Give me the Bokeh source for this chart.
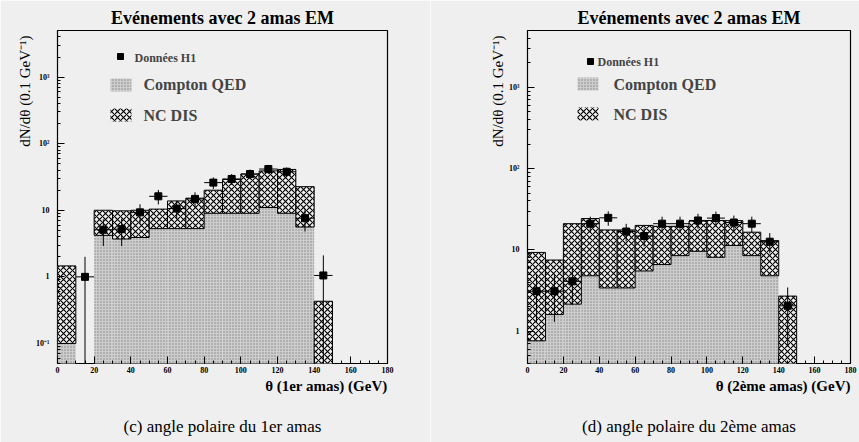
from math import log10
from bokeh.plotting import figure
from bokeh.layouts import row
from bokeh.models import Range1d, FixedTicker, Label, Title
from bokeh.embed import file_html
from bokeh.resources import INLINE

# ---------------- data ----------------
bin_edges = [0, 10, 20, 30, 40, 50, 60, 70, 80, 90, 100, 110, 120, 130, 140, 150]

left_compton = [0.1, 0, 4.2, 3.7, 3.9, 5.3, 5.3, 5.3, 9.0, 9.0, 9.0, 11.0, 9.0, 5.6, 0]
left_total = [1.46, 0, 10.0, 9.8, 10.0, 10.4, 13.8, 15.2, 20.0, 29.0, 35.0, 39.0, 41.0, 22.6, 0.43]
left_theta = [15, 25, 35, 45, 55, 65, 75, 85, 95, 105, 115, 125, 135, 145]
left_data = [1.0, 5.1, 5.2, 9.3, 16.2, 10.6, 14.8, 26.0, 29.5, 35.0, 41.6, 37.8, 7.6, 1.05]
left_err = [1.0, 2.2, 2.3, 3.0, 4.0, 3.2, 3.8, 5.1, 5.4, 5.9, 6.4, 6.1, 2.8, 1.05]

right_compton = [0.76, 1.6, 2.15, 4.8, 3.4, 3.4, 5.5, 6.6, 8.5, 9.6, 8.1, 11.3, 8.5, 4.8, 0]
right_total = [9.3, 7.5, 21.0, 24.3, 17.6, 17.6, 20.0, 19.5, 19.5, 22.6, 23.0, 22.9, 16.5, 13.0, 2.7]
right_theta = [5, 15, 25, 35, 45, 55, 65, 75, 85, 95, 105, 115, 125, 135, 145]
right_data = [3.1, 3.1, 4.1, 21.0, 24.8, 16.8, 14.8, 21.0, 21.0, 23.0, 24.6, 21.7, 21.0, 12.6, 2.05]
right_err = [1.8, 1.8, 2.0, 4.6, 5.0, 4.1, 3.8, 4.6, 4.6, 4.8, 5.0, 4.7, 4.6, 3.5, 1.4]

x_ticks = [0, 20, 40, 60, 80, 100, 120, 140, 160, 180]
left_y_ticks = [0.1, 1, 10, 100, 1000]
left_y_labels = ["10⁻¹", "1", "10", "10²", "10³"]
right_y_ticks = [1, 10, 100, 1000]
right_y_labels = ["1", "10", "10²", "10³"]

title_text = "Evénements avec 2 amas EM"
legend_labels = ["Données H1", "Compton QED", "NC DIS"]
y_label = "dN/dθ (0.1 GeV⁻¹)"
left_xlabel = "θ (1er amas) (GeV)"
right_xlabel = "θ (2ème amas) (GeV)"
left_caption = "(c) angle polaire du 1er amas"
right_caption = "(d) angle polaire du 2ème amas"

PAPER = "#efefef"
SERIF = "Liberation Serif"
FIG_H = 442


def make_panel(fig_left, fig_w, frame, yr, compton, total, theta, data, err,
               yticks, ylabels, pos):
    fl, fr, ft, fb = frame
    x0, x1 = 0, 180
    y0, y1 = yr
    p = figure(width=fig_w, height=FIG_H, x_range=Range1d(x0, x1), y_range=Range1d(y0, y1),
               y_axis_type="log", output_backend="svg", toolbar_location=None,
               min_border_left=fl - fig_left, min_border_right=fig_left + fig_w - fr,
               min_border_top=ft, min_border_bottom=FIG_H - fb)
    p.background_fill_color = PAPER
    p.border_fill_color = PAPER
    p.outline_line_color = "black"
    p.outline_line_width = 1.2
    p.grid.visible = False

    minor_y = [m * 10 ** e for e in range(-2, 4) for m in range(2, 10)]
    p.yaxis.ticker = FixedTicker(ticks=yticks, minor_ticks=minor_y)
    p.yaxis.major_label_overrides = dict(zip(yticks, ylabels))
    p.xaxis.ticker = FixedTicker(ticks=x_ticks, minor_ticks=list(range(0, 182, 5)))
    for ax in (p.xaxis, p.yaxis):
        ax.axis_line_color = None
        ax.major_tick_in = 7
        ax.major_tick_out = 0
        ax.minor_tick_in = 3
        ax.minor_tick_out = 0
        ax.major_tick_line_color = "black"
        ax.minor_tick_line_color = "black"
        ax.major_label_text_font = SERIF
        ax.major_label_text_font_style = "bold"
        ax.major_label_text_font_size = "8px"
        ax.major_label_text_color = "black"
    p.yaxis.major_label_standoff = 8
    p.xaxis.major_label_standoff = 3

    def X(px):
        return x0 + (px - fl) / (fr - fl) * (x1 - x0)

    def Y(py):
        return 10 ** (log10(y1) - (py - ft) / (fb - ft) * (log10(y1) - log10(y0)))

    floor = y0 / 10
    lefts = bin_edges[:-1]
    rights = bin_edges[1:]
    c_top = [c if c > 0 else floor for c in compton]
    nc_bot = [c if c > 0 else floor for c in compton]
    nc_top = [t if t > 0 else floor for t in total]

    stip = dict(fill_color="#cdcdcd", hatch_pattern=".", hatch_scale=3,
                hatch_color="#858585", hatch_weight=1)
    hatch = dict(fill_color=PAPER, hatch_pattern="x", hatch_scale=6,
                 hatch_color="black", hatch_weight=1.1)

    p.quad(left=lefts, right=rights, bottom=[floor] * len(lefts), top=c_top,
           line_color=None, **stip)
    p.quad(left=lefts, right=rights, bottom=nc_bot, top=nc_top,
           line_color="black", line_width=1, **hatch)

    half = (bin_edges[1] - bin_edges[0]) / 2
    lo = [max(v - e, floor) for v, e in zip(data, err)]
    hi = [v + e for v, e in zip(data, err)]
    p.segment(x0=theta, y0=lo, x1=theta, y1=hi, line_color="black", line_width=1)
    p.segment(x0=[t - half for t in theta], y0=data, x1=[t + half for t in theta], y1=data,
              line_color="black", line_width=1)
    p.scatter(theta, data, marker="square", size=7, color="black")

    # legend (drawn inside the frame)
    mx, my = pos["marker"]
    p.scatter([X(mx)], [Y(my)], marker="square", size=6, color="black")
    p.add_layout(Label(x=X(pos["dtext"][0]), y=Y(pos["dtext"][1]), text=legend_labels[0],
                       text_font=SERIF, text_font_style="bold", text_font_size="12px",
                       text_baseline="middle", text_align="left"))
    sx, sy = pos["cswatch"]
    p.rect(x=[X(sx)], y=[Y(sy)], width=21, height=13, width_units="screen",
           height_units="screen", line_color=None, **stip)
    p.add_layout(Label(x=X(pos["ctext"][0]), y=Y(pos["ctext"][1]), text=legend_labels[1],
                       text_font=SERIF, text_font_style="bold", text_font_size="16px",
                       text_baseline="middle", text_align="left"))
    sx, sy = pos["nswatch"]
    p.rect(x=[X(sx)], y=[Y(sy)], width=21, height=13, width_units="screen",
           height_units="screen", line_color=None, **hatch)
    p.add_layout(Label(x=X(pos["ntext"][0]), y=Y(pos["ntext"][1]), text=legend_labels[2],
                       text_font=SERIF, text_font_style="bold", text_font_size="16px",
                       text_baseline="middle", text_align="left"))

    # texts around the frame
    t_top = Title(text=title_text, align="center", text_font=SERIF, text_font_style="bold",
                  text_font_size="18px", standoff=6, text_color="black")
    p.add_layout(t_top, "above")
    t_y = Title(text=y_label, align="right", text_font=SERIF, text_font_style="normal",
                text_font_size="15px", standoff=2, offset=pos["ylab_offset"], text_color="black")
    p.add_layout(t_y, "left")
    t_x = Title(text=pos["xlab_text"], align="right", text_font=SERIF, text_font_style="bold",
                text_font_size="15px", standoff=0, text_color="black")
    p.add_layout(t_x, "below")
    spacer = Title(text=" ", text_font=SERIF, text_font_size="17px", standoff=0)
    p.add_layout(spacer, "below")
    t_c = Title(text=pos["cap_text"], align="center", text_font=SERIF, text_font_style="normal",
                text_font_size="17px", standoff=0, text_color="black")
    p.add_layout(t_c, "below")
    return p


left_pos = dict(marker=(120, 56), dtext=(134, 57), cswatch=(120.5, 84.5), ctext=(143, 84),
                nswatch=(120.5, 114.5), ntext=(143, 115), ylab_offset=5,
                xlab_text=left_xlabel, cap_text=left_caption)
right_pos = dict(marker=(590, 61), dtext=(597, 61), cswatch=(587.5, 83.5), ctext=(613, 84),
                 nswatch=(587.5, 113.5), ntext=(613, 114), ylab_offset=5,
                 xlab_text=right_xlabel, cap_text=right_caption)

p1 = make_panel(0, 430, (57, 387, 30, 363), (0.05, 5000), left_compton, left_total,
                left_theta, left_data, left_err, left_y_ticks, left_y_labels, left_pos)
p2 = make_panel(430, 429, (527, 850, 30, 363), (0.4, 5000), right_compton, right_total,
                right_theta, right_data, right_err, right_y_ticks, right_y_labels, right_pos)

layout = row(p1, p2, spacing=0)
open("out.html", "w").write(file_html(layout, INLINE))
